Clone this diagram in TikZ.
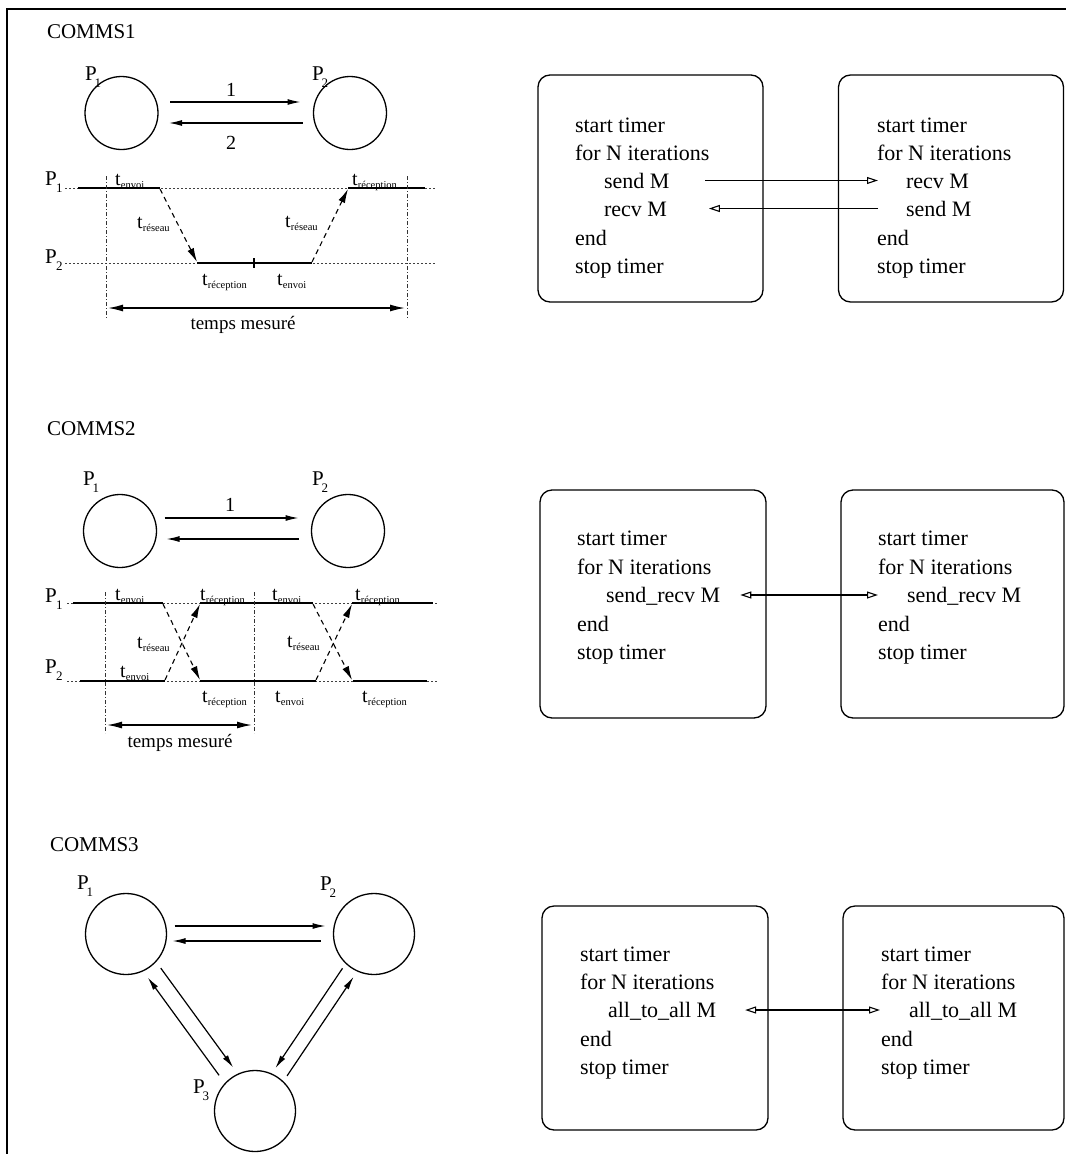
\documentclass[tikz,border=0pt]{standalone}
\usepackage{fontspec}
\setmainfont{Liberation Serif}
\usetikzlibrary{arrows.meta,calc}

% time label: large t with a small lowered index
\newcommand{\tl}[1]{t\kern0.3pt\raisebox{-3pt}{\fontsize{10.5}{11}\selectfont #1}}
% process label: P with a lowered index tucked under it
\newcommand{\pl}[2][-2pt]{P\kern#1\raisebox{-7pt}{\fontsize{13}{13}\selectfont #2}}

\tikzset{
  every node/.style={inner sep=0pt, outer sep=0pt},
  proc/.style={circle, draw, line width=1.3pt, minimum size=73pt},
  bigproc/.style={circle, draw, line width=1.3pt, minimum size=81pt},
  heading/.style={anchor=base west, font=\fontsize{21}{25}\selectfont},
  plab/.style={anchor=base west, font=\fontsize{21}{25}\selectfont},
  tlab/.style={anchor=base west, font=\fontsize{20}{24}\selectfont},
  num/.style={font=\fontsize{20}{24}\selectfont},
  caption/.style={anchor=base, font=\fontsize{19}{23}\selectfont},
  msg/.style={line width=1.2pt, -{Latex[length=13pt,width=6pt]}},
  net/.style={line width=1.1pt, dash pattern=on 5pt off 4pt, -{Latex[length=14pt,width=7pt]}},
  busy/.style={line width=1.4pt},
  idle/.style={line width=0.8pt, dash pattern=on 1.5pt off 2.5pt, black!75},
  guide/.style={line width=0.9pt, dash pattern=on 4pt off 2pt on 1pt off 2pt, black!80},
  span/.style={line width=1.4pt, {Latex[length=15pt,width=7pt]}-{Latex[length=15pt,width=7pt]}},
  codebox/.style={draw, rounded corners=12pt, line width=1.3pt},
  code/.style={anchor=base west, font=\fontsize{22}{26}\selectfont, text height=15pt, text depth=0pt},
  link/.style={line width=1.1pt, -{Triangle[open,length=11pt,width=7pt]}},
  duplex/.style={line width=1.1pt, {Triangle[open,length=11pt,width=7pt]}-{Triangle[open,length=11pt,width=7pt]}},
}

\begin{document}
\begin{tikzpicture}[x=1pt, y=-1pt]
\useasboundingbox (0,0) rectangle (1066,1154);

% outer frame (top and left edges)
\draw[line width=1.6pt] (7,1154) -- (7,9) -- (1066,9);

%% ---------------- COMMS1 ----------------
\node[heading] (h1) at (47,38) {COMMS1};
\node[proc] (a1) at (121.5,113) {};
\node[proc] (a2) at (350,113) {};
\node[plab] (la1) at (85,80) {\pl{1}};
\node[plab] (la2) at (312,80) {\pl{2}};
\draw[msg] ($(a1.east)+(12,-11)$) -- ($(a2.west)+(-13,-11)$);
\draw[msg] ($(a2.west)+(-11,10)$) -- ($(a1.east)+(11,10)$);
\node[num] (n1) at (231,90) {1};
\node[num] (n2) at (231,143) {2};

% time lines
\node[plab] (ta1) at (45,185) {\pl[-0.5pt]{1}};
\node[plab] (ta2) at (45,263) {\pl[-0.5pt]{2}};
\draw[idle] (65,188) -- (437,188);
\draw[idle] (65,263) -- (437,263);
\draw[busy] (78,188) -- (160,188);
\draw[busy] (348,188) -- (425,188);
\draw[busy] (197,263) -- (312,263);
\draw[busy] (254,258) -- (254,268);
\draw[guide] (106,176) -- (106,318);
\draw[guide] (407,176) -- (407,318);
\draw[net] (160,189) -- (197,262);
\draw[net] (312,262) -- (348,189);
\draw[span] (108,308) -- (405,308);
\node[tlab] (ua1) at (115,185) {\tl{envoi}};
\node[tlab] (ua2) at (137,228) {\tl{réseau}};
\node[tlab] (ua3) at (285,227) {\tl{réseau}};
\node[tlab] (ua4) at (352,185) {\tl{réception}};
\node[tlab] (ua5) at (202,285) {\tl{réception}};
\node[tlab] (ua6) at (277,285) {\tl{envoi}};
\node[caption] (ma) at (243,329) {temps mesuré};

% program boxes
\node[codebox, minimum width=225pt, minimum height=227pt] (b1a) at (650.5,188.5) {};
\node[codebox, minimum width=225pt, minimum height=227pt] (b1b) at (951,188.5) {};
\node[code] (p1a) at (575,132) {start timer};
\node[code] (p1b) at (575,160) {for N iterations};
\node[code] (p1c) at (604,188) {send M};
\node[code] (p1d) at (604,216) {recv M};
\node[code] (p1e) at (575,245) {end};
\node[code] (p1f) at (575,273) {stop timer};
\node[code] (q1a) at (877,132) {start timer};
\node[code] (q1b) at (877,160) {for N iterations};
\node[code] (q1c) at (906,188) {recv M};
\node[code] (q1d) at (906,216) {send M};
\node[code] (q1e) at (877,245) {end};
\node[code] (q1f) at (877,273) {stop timer};
\draw[link] ([xshift=36pt]p1c.east) -- ([xshift=-28pt]q1c.west);
\draw[link] ([xshift=-28pt]q1d.west) -- ([xshift=42pt]p1d.east);

%% ---------------- COMMS2 ----------------
\node[heading] (h2) at (47,435) {COMMS2};
\node[proc] (b1) at (120,531) {};
\node[proc] (b2) at (348,531) {};
\node[plab] (lb1) at (83,485) {\pl{1}};
\node[plab] (lb2) at (312,485) {\pl{2}};
\draw[msg] ($(b1.east)+(8,-13)$) -- ($(b2.west)+(-13,-13)$);
\draw[msg] ($(b2.west)+(-13,8)$) -- ($(b1.east)+(10,8)$);
\node[num] (n3) at (230,505) {1};

% time lines
\node[plab] (tb1) at (45,602) {\pl[-0.5pt]{1}};
\node[plab] (tb2) at (45,673) {\pl[-0.5pt]{2}};
\draw[idle] (67,603) -- (437,603);
\draw[idle] (67,681) -- (437,681);
\draw[busy] (73,603) -- (163,603);
\draw[busy] (200,603) -- (313,603);
\draw[busy] (352,603) -- (433,603);
\draw[busy] (80,681) -- (165,681);
\draw[busy] (200,681) -- (316,681);
\draw[busy] (353,681) -- (427,681);
\draw[guide] (105,592) -- (105,733);
\draw[guide] (254,592) -- (254,733);
\draw[net] (163,604) -- (200,680);
\draw[net] (165,680) -- (200,604);
\draw[net] (313,604) -- (352,680);
\draw[net] (316,680) -- (352,604);
\draw[span] (107,725) -- (252,725);
\node[tlab] (ub1) at (115,600) {\tl{envoi}};
\node[tlab] (ub2) at (200,600) {\tl{réception}};
\node[tlab] (ub3) at (272,600) {\tl{envoi}};
\node[tlab] (ub4) at (355,600) {\tl{réception}};
\node[tlab] (ub5) at (137,648) {\tl{réseau}};
\node[tlab] (ub6) at (287,647) {\tl{réseau}};
\node[tlab] (ub7) at (120,677) {\tl{envoi}};
\node[tlab] (ub8) at (202,702) {\tl{réception}};
\node[tlab] (ub9) at (275,702) {\tl{envoi}};
\node[tlab] (ub10) at (362,702) {\tl{réception}};
\node[caption] (mb) at (180,747) {temps mesuré};

% program boxes
\node[codebox, minimum width=226pt, minimum height=228pt] (b2a) at (653,604) {};
\node[codebox, minimum width=223pt, minimum height=228pt] (b2b) at (952.5,604) {};
\node[code] (p2a) at (577,545.5) {start timer};
\node[code] (p2b) at (577,574) {for N iterations};
\node[code] (p2c) at (606,602.5) {send\_recv M};
\node[code] (p2d) at (577,631) {end};
\node[code] (p2e) at (577,659.5) {stop timer};
\node[code] (q2a) at (878,545.5) {start timer};
\node[code] (q2b) at (878,574) {for N iterations};
\node[code] (q2c) at (907,602.5) {send\_recv M};
\node[code] (q2d) at (878,631) {end};
\node[code] (q2e) at (878,659.5) {stop timer};
\draw[duplex] ([xshift=20pt]p2c.east) -- ([xshift=-29pt]q2c.west);

%% ---------------- COMMS3 ----------------
\node[heading] (h3) at (50,851) {COMMS3};
\node[bigproc] (c1) at (126,934) {};
\node[bigproc] (c2) at (374,934) {};
\node[bigproc] (c3) at (255,1111) {};
\node[plab] (lc1) at (77,889) {\pl{1}};
\node[plab] (lc2) at (320,890) {\pl{2}};
\node[plab] (lc3) at (193,1093) {\pl{3}};
\draw[msg] ($(c1.east)+(8,-8)$) -- ($(c2.west)+(-8,-8)$);
\draw[msg] ($(c2.west)+(-13,7)$) -- ($(c1.east)+(6,7)$);
\draw[msg, shorten <=48pt, shorten >=48pt] ($(c1)!8pt!90:(c3)$) -- ($(c3)!8pt!-90:(c1)$);
\draw[msg, shorten <=50pt, shorten >=48pt] ($(c3)!8pt!90:(c1)$) -- ($(c1)!8pt!-90:(c3)$);
\draw[msg, shorten <=47pt, shorten >=47pt] ($(c3)!7pt!-90:(c2)$) -- ($(c2)!7pt!90:(c3)$);
\draw[msg, shorten <=46pt, shorten >=47pt] ($(c2)!7pt!-90:(c3)$) -- ($(c3)!7pt!90:(c2)$);

% program boxes
\node[codebox, minimum width=226pt, minimum height=224pt] (b3a) at (655,1018) {};
\node[codebox, minimum width=221pt, minimum height=224pt] (b3b) at (953.5,1018) {};
\node[code] (p3a) at (580,961) {start timer};
\node[code] (p3b) at (580,989) {for N iterations};
\node[code] (p3c) at (608,1017.5) {all\_to\_all M};
\node[code] (p3d) at (580,1046) {end};
\node[code] (p3e) at (580,1074) {stop timer};
\node[code] (q3a) at (881,961) {start timer};
\node[code] (q3b) at (881,989) {for N iterations};
\node[code] (q3c) at (909,1017.5) {all\_to\_all M};
\node[code] (q3d) at (881,1046) {end};
\node[code] (q3e) at (881,1074) {stop timer};
\draw[duplex] ([xshift=29pt]p3c.east) -- ([xshift=-29pt]q3c.west);
\end{tikzpicture}
\end{document}
